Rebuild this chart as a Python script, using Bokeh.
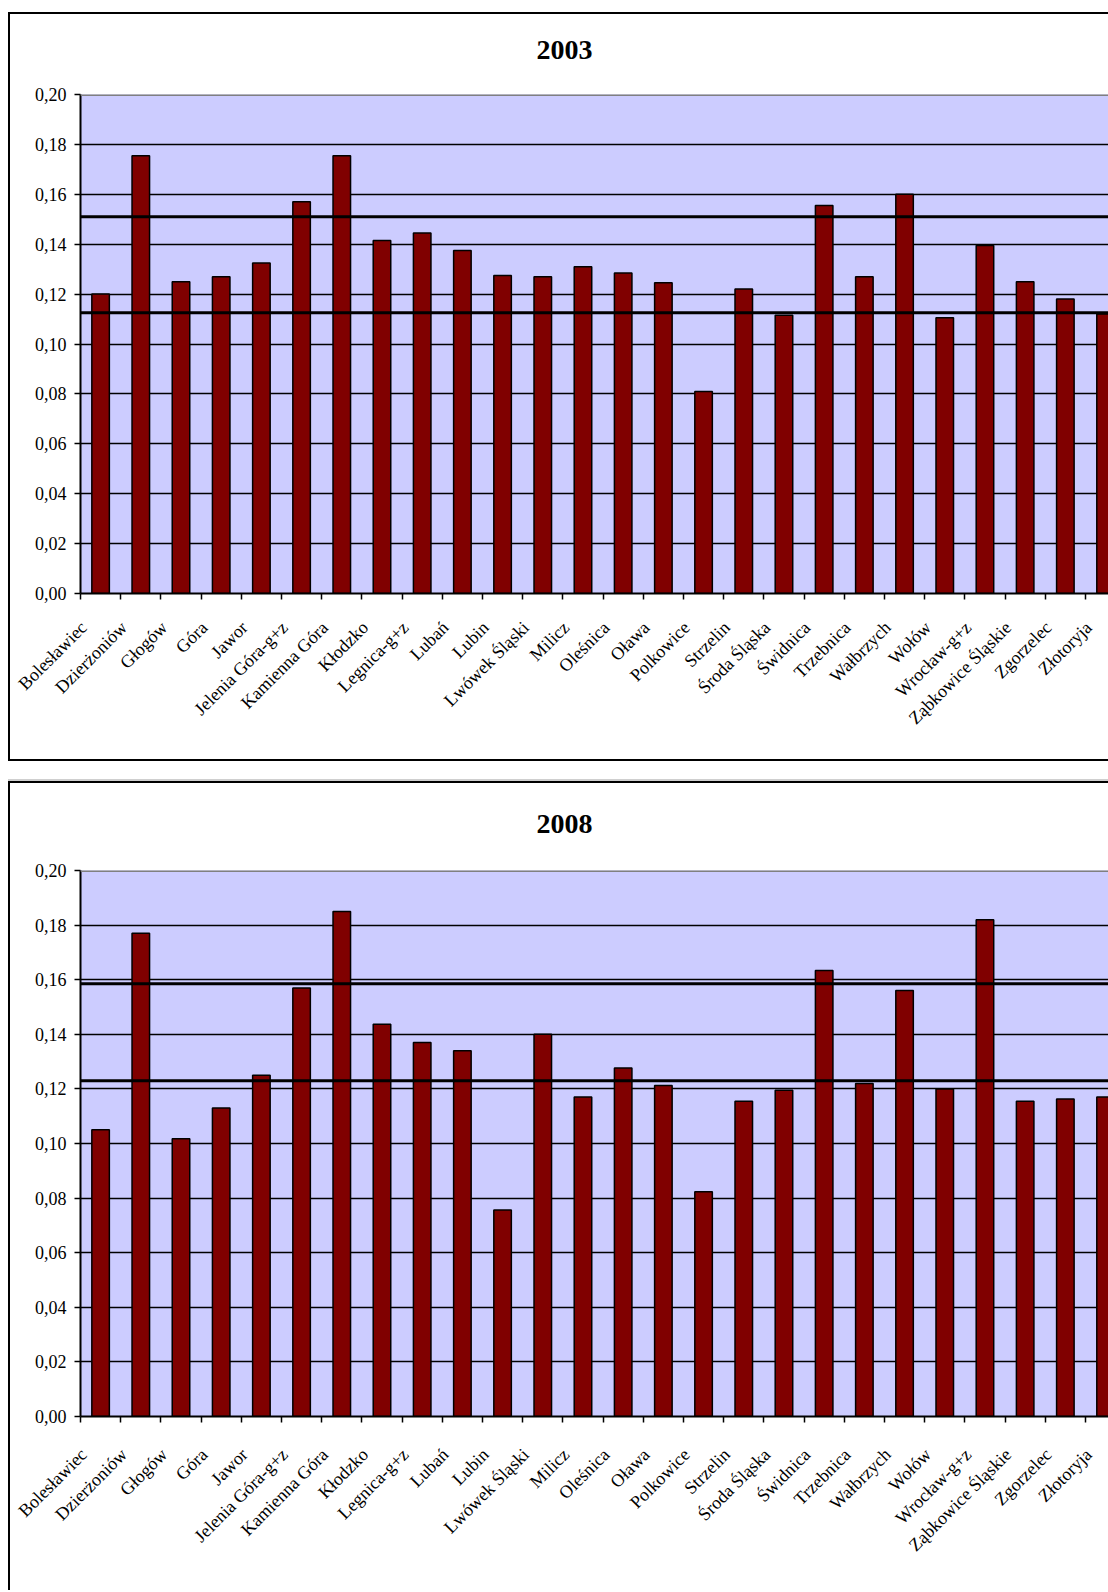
import math
from bokeh.plotting import figure
from bokeh.models import (Range1d, FixedTicker, LinearAxis, Span, CustomJSTickFormatter,
                          Grid, Spacer, Title)
from bokeh.layouts import column, row
from bokeh.embed import file_html
from bokeh.resources import INLINE

categories = ["Bolesławiec", "Dzierżoniów", "Głogów", "Góra", "Jawor", "Jelenia Góra-g+z",
              "Kamienna Góra", "Kłodzko", "Legnica-g+z", "Lubań", "Lubin", "Lwówek Śląski",
              "Milicz", "Oleśnica", "Oława", "Polkowice", "Strzelin", "Środa Śląska",
              "Świdnica", "Trzebnica", "Wałbrzych", "Wołów", "Wrocław-g+z",
              "Ząbkowice Śląskie", "Zgorzelec", "Złotoryja"]

values_2003 = [0.120, 0.1755, 0.125, 0.127, 0.1325, 0.157, 0.1755, 0.1415, 0.1445, 0.1375,
               0.1275, 0.127, 0.131, 0.1285, 0.1245, 0.081, 0.122, 0.1115, 0.1555, 0.127,
               0.160, 0.1105, 0.1395, 0.125, 0.118, 0.112]

values_2008 = [0.105, 0.177, 0.1017, 0.113, 0.125, 0.157, 0.185, 0.1437, 0.137, 0.134,
               0.0756, 0.140, 0.117, 0.1277, 0.1212, 0.0823, 0.1155, 0.1195, 0.1634, 0.122,
               0.156, 0.120, 0.182, 0.1155, 0.1163, 0.117]

ref_lines_2003 = [0.151, 0.1125]
ref_lines_2008 = [0.1585, 0.123]

y_ticks = [0.00, 0.02, 0.04, 0.06, 0.08, 0.10, 0.12, 0.14, 0.16, 0.18, 0.20]

FONT = "Liberation Serif"
FIG_W = 1098
LEFT = 70
CAT_PX = 40.12
VISIBLE = (FIG_W - LEFT) / CAT_PX
LABEL_SHIFT = 0.42


def make_chart(title, vals, lines, height, top, bottom, borders, title_gap, label_standoff):
    p = figure(width=FIG_W, height=height,
               x_range=Range1d(0, VISIBLE), y_range=Range1d(0, 0.2),
               output_backend="svg", toolbar_location=None,
               x_axis_type=None, y_axis_type=None,
               min_border_left=LEFT, min_border_right=0,
               min_border_top=top, min_border_bottom=bottom,
               background_fill_color="#CCCCFF", border_fill_color="white",
               outline_line_color=None)
    # gap between title and plot area (blank title panel), then the title itself
    p.add_layout(Title(text=" ", text_font=FONT, text_font_size="10px",
                       standoff=title_gap), "above")
    p.add_layout(Title(text=title, align="left", offset=456, text_font=FONT,
                       text_font_size="28px", text_font_style="bold",
                       text_color="black", standoff=0), "above")

    p.xgrid.visible = False
    p.ygrid.visible = False
    grid = Grid(dimension=1, ticker=FixedTicker(ticks=y_ticks[1:-1]),
                grid_line_color="black", grid_line_width=1.5)
    p.add_layout(grid)

    xs = [i + 0.5 for i in range(len(categories))]
    p.vbar(x=xs, top=vals, width=0.436, bottom=0, fill_color="#800000",
           line_color="black", line_width=1.5)

    for v in lines:
        p.add_layout(Span(location=v, dimension="width", line_color="black", line_width=3))
    p.add_layout(Span(location=0.2, dimension="width", line_color="#808080", line_width=3))

    yaxis = LinearAxis(ticker=FixedTicker(ticks=y_ticks),
                       formatter=CustomJSTickFormatter(code="return tick.toFixed(2).replace('.', ',');"),
                       axis_line_color="black", axis_line_width=2,
                       major_tick_line_color="black", major_tick_line_width=1.5,
                       major_tick_out=6, major_tick_in=0,
                       minor_tick_line_color=None,
                       major_label_text_font=FONT, major_label_text_font_size="18px",
                       major_label_text_color="black", major_label_standoff=8)
    p.add_layout(yaxis, "left")

    label_pos = [x - LABEL_SHIFT for x in xs]
    xaxis = LinearAxis(ticker=FixedTicker(ticks=label_pos,
                                          minor_ticks=list(range(len(categories) + 1))),
                       major_label_overrides={x: c for x, c in zip(label_pos, categories)},
                       axis_line_color="black", axis_line_width=2,
                       major_tick_line_color=None, major_tick_out=6, major_tick_in=0,
                       minor_tick_line_color="black", minor_tick_line_width=1.5,
                       minor_tick_out=6, minor_tick_in=0,
                       major_label_orientation=math.pi / 4,
                       major_label_text_font=FONT, major_label_text_font_size="18px",
                       major_label_text_color="black", major_label_standoff=label_standoff)
    p.add_layout(xaxis, "below")

    st = {"box-sizing": "content-box"}
    st.update({b: "2px solid black" for b in borders})
    p.styles = st
    return p


p1 = make_chart("2003", values_2003, ref_lines_2003, 745, 80, 170,
                ["border-left", "border-top", "border-bottom"], 23, 25)
p2 = make_chart("2008", values_2008, ref_lines_2008, 807, 87, 176,
                ["border-left", "border-top"], 25, 29)

gap = Spacer(width=1100, height=18,
             styles={"box-sizing": "content-box", "border-bottom": "2px solid #cfcfcf"})
layout = row(Spacer(width=8),
             column(Spacer(height=12), p1, gap, p2))

open("out.html", "w").write(file_html(layout, INLINE))
